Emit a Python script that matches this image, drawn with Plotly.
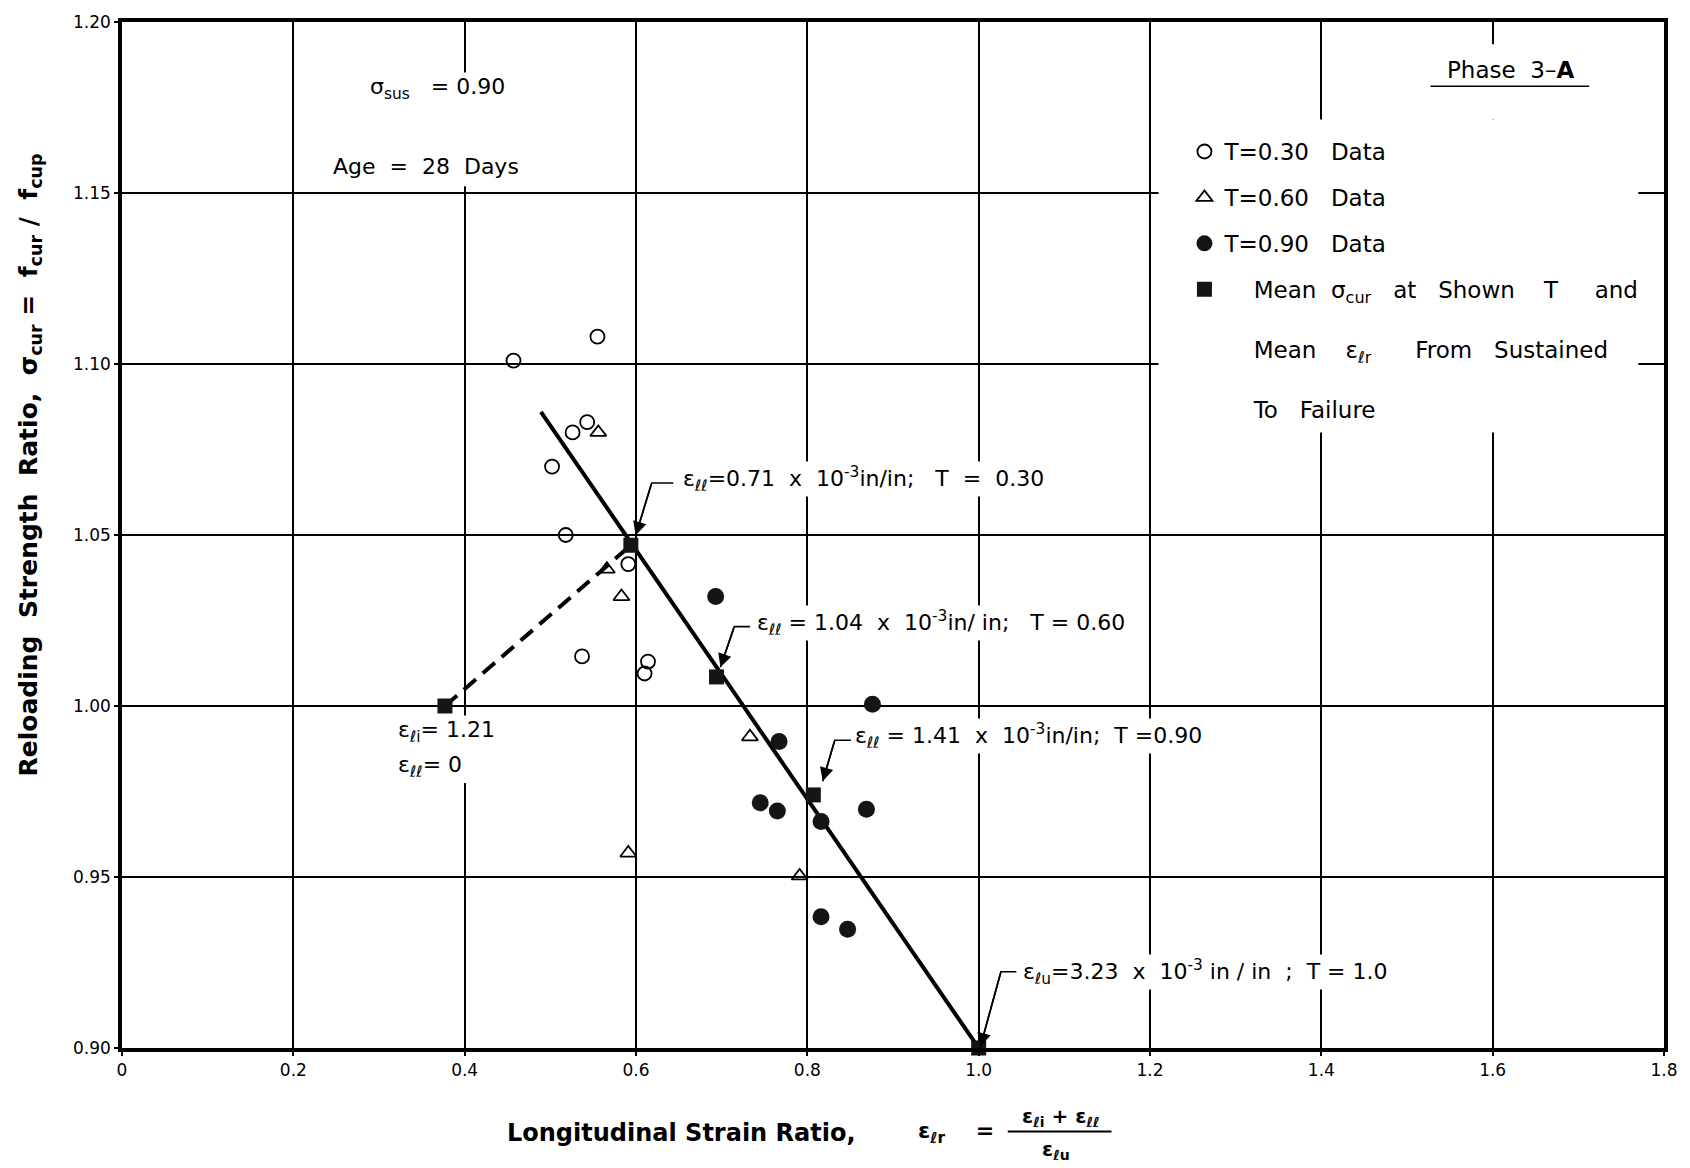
import plotly.graph_objects as go

# ---- data -------------------------------------------------------------
# T = 0.30 specimens (open circles)
t30_x = [0.457, 0.555, 0.526, 0.543, 0.502, 0.518, 0.591, 0.537, 0.614, 0.610]
t30_y = [1.101, 1.108, 1.080, 1.083, 1.070, 1.050, 1.0415, 1.0145, 1.013, 1.0095]

# T = 0.60 specimens (open triangles)
t60_x = [0.556, 0.566, 0.583, 0.733, 0.591, 0.791]
t60_y = [1.080, 1.040, 1.032, 0.991, 0.957, 0.9503]

# T = 0.90 specimens (filled circles)
t90_x = [0.693, 0.876, 0.767, 0.745, 0.765, 0.816, 0.869, 0.816, 0.847]
t90_y = [1.032, 1.0005, 0.9896, 0.9717, 0.9693, 0.9662, 0.9698, 0.9384, 0.9347]

# mean reloading strength at each T (filled squares)
mean_x = [0.377, 0.594, 0.694, 0.807, 1.0]
mean_y = [1.000, 1.047, 1.0085, 0.974, 0.900]

# fitted straight line through the means
fit_x = [0.489, 1.0]
fit_y = [1.086, 0.900]

x_ticks = [0, 0.2, 0.4, 0.6, 0.8, 1.0, 1.2, 1.4, 1.6, 1.8]
x_labels = ["0", "0.2", "0.4", "0.6", "0.8", "1.0", "1.2", "1.4", "1.6", "1.8"]
y_ticks = [0.90, 0.95, 1.00, 1.05, 1.10, 1.15, 1.20]
y_labels = ["0.90", "0.95", "1.00", "1.05", "1.10", "1.15", "1.20"]

FONT = "DejaVu Sans"
NB = "\u00a0"


def sp(n):
    return NB * n


fig = go.Figure()

# fitted line and the dashed branch from the initial state
fig.add_trace(go.Scatter(x=fit_x, y=fit_y, mode="lines",
                         line=dict(color="black", width=4),
                         showlegend=False, hoverinfo="skip"))
fig.add_trace(go.Scatter(x=mean_x[:2], y=mean_y[:2], mode="lines",
                         line=dict(color="black", width=4, dash="16px,9px"),
                         showlegend=False, hoverinfo="skip"))

fig.add_trace(go.Scatter(
    x=t30_x, y=t30_y, mode="markers", legendgroup="g1",
    name="T=0.30" + sp(3) + "Data",
    marker=dict(symbol="circle-open", size=14, color="black", line=dict(width=1.8))))
fig.add_trace(go.Scatter(
    x=t60_x, y=t60_y, mode="markers", legendgroup="g2",
    name="T=0.60" + sp(3) + "Data",
    marker=dict(symbol="triangle-up-open", size=14, color="black", line=dict(width=1.8))))
fig.add_trace(go.Scatter(
    x=t90_x, y=t90_y, mode="markers", legendgroup="g3",
    name="T=0.90" + sp(3) + "Data",
    marker=dict(symbol="circle", size=17, color="#151515", line=dict(width=0))))

mean_name = (sp(4) + "Mean" + sp(2) + "σ<sub>cur</sub>" + sp(3) + "at" + sp(3) + "Shown"
             + sp(4) + "T" + sp(5) + "and<br><br>"
             + sp(4) + "Mean" + sp(4) + "ε<sub>ℓr</sub>" + sp(6) + "From" + sp(3) + "Sustained<br><br>"
             + sp(4) + "To" + sp(3) + "Failure")
fig.add_trace(go.Scatter(
    x=mean_x, y=mean_y, mode="markers", legendgroup="g4", name=mean_name,
    cliponaxis=False,
    marker=dict(symbol="square", size=15, color="#151515", line=dict(width=0))))

# ---- text blocks and leaders ------------------------------------------
ann = []
shapes = []
LIFT = 0.0012  # text boxes sit a little above their leader ticks


def note(x, y, text, size=22, bg="white", **kw):
    ann.append(dict(x=x, y=y, xref="x", yref="y", text=text, showarrow=False,
                    xanchor=kw.pop("xanchor", "left"), yanchor="middle",
                    bgcolor=bg, borderpad=1,
                    font=dict(family=FONT, size=size, color="black"), **kw))


def leader(x0, x1, y1, xt, yt):
    # horizontal tick from the label, then a slanted arrow to the point
    shapes.append(dict(type="path", xref="x", yref="y",
                       path=f"M {x0},{y1} L {x1},{y1} L {xt},{yt}",
                       line=dict(color="black", width=1.6)))
    ann.append(dict(x=xt, y=yt, ax=x1, ay=y1, xref="x", yref="y",
                    axref="x", ayref="y", text="", showarrow=True,
                    arrowhead=2, arrowsize=1.6, arrowwidth=1.7,
                    arrowcolor="black", standoff=0))


note(0.652, 1.0652 + LIFT, "ε<sub>ℓℓ</sub>=0.71" + sp(2) + "x" + sp(2)
     + "10<sup>-3</sup>in/in;" + sp(3) + "T" + sp(2) + "=" + sp(2) + "0.30")
leader(0.6436, 0.6183, 1.0652, 0.5997, 1.0499)

note(0.739, 1.0232 + LIFT, "ε<sub>ℓℓ</sub>" + NB + "=" + NB + "1.04" + sp(2) + "x" + sp(2)
     + "10<sup>-3</sup>in/" + NB + "in;" + sp(3) + "T" + NB + "=" + NB + "0.60")
leader(0.733, 0.7147, 1.0232, 0.6985, 1.0113)

note(0.853, 0.990 + LIFT, "ε<sub>ℓℓ</sub>" + NB + "=" + NB + "1.41" + sp(2) + "x" + sp(2)
     + "10<sup>-3</sup>in/in;" + sp(2) + "T" + NB + "=0.90")
leader(0.851, 0.832, 0.990, 0.818, 0.978)

note(1.049, 0.921 + LIFT, "ε<sub>ℓu</sub>=3.23" + sp(2) + "x" + sp(2)
     + "10<sup>-3</sup>" + NB + "in" + NB + "/" + NB + "in" + sp(2) + ";" + sp(2)
     + "T" + NB + "=" + NB + "1.0")
leader(1.044, 1.026, 0.9223, 1.002, 0.9004)

note(0.3198, 0.9926, "ε<sub>ℓi</sub>=" + NB + "1.21")
note(0.3198, 0.9824, "ε<sub>ℓℓ</sub>=" + NB + "0")

note(0.2876, 1.1805, "σ<sub>sus</sub>" + sp(3) + "=" + NB + "0.90")
note(0.2445, 1.1577, "Age" + sp(2) + "=" + sp(2) + "28" + sp(2) + "Days")

note(1.6207, 1.1860, "Phase" + sp(2) + "3–<b>A</b>", size=23, xanchor="center")
shapes.append(dict(type="line", xref="x", yref="y", x0=1.5275, x1=1.7126,
                   y0=1.1812, y1=1.1812, line=dict(color="black", width=1.6)))

# cleared patches of the grid behind the lettering
for x0, x1, y0, y1 in [(1.21, 1.77, 1.080, 1.1715),
                       (1.523, 1.721, 1.1715, 1.1935),
                       (0.385, 0.415, 1.152, 1.184),
                       (0.385, 0.415, 0.9775, 0.995)]:
    shapes.append(dict(type="rect", xref="x", yref="y", x0=x0, x1=x1, y0=y0, y1=y1,
                       fillcolor="white", line=dict(width=0), layer="between"))

# ---- axis titles -------------------------------------------------------
ann.append(dict(x=-0.0595, y=0.568, xref="paper", yref="paper", textangle=-90,
                showarrow=False, xanchor="center", yanchor="middle",
                text="<b>Reloading" + sp(2) + "Strength" + sp(2) + "Ratio," + sp(2)
                     + "σ<sub>cur</sub>" + NB + "=" + sp(2) + "f<sub>cur</sub>" + NB + "/"
                     + sp(2) + "f<sub>cup</sub></b>",
                font=dict(family=FONT, size=25, color="black")))
ann.append(dict(x=(506 - 122) / 1546, y=-0.0824, xref="paper", yref="paper",
                showarrow=False, xanchor="left", yanchor="middle",
                text="<b>Longitudinal" + NB + "Strain" + NB + "Ratio,</b>",
                font=dict(family=FONT, size=24, color="black")))
ann.append(dict(x=(918 - 122) / 1546, y=-0.0824, xref="paper", yref="paper",
                showarrow=False, xanchor="left", yanchor="middle",
                text="<b>ε<sub>ℓr</sub>" + sp(4) + "=</b>",
                font=dict(family=FONT, size=22, color="black")))
ann.append(dict(x=0.609, y=-0.0669, xref="paper", yref="paper",
                showarrow=False, xanchor="center", yanchor="middle",
                text="<b>ε<sub>ℓi</sub>" + NB + "+" + NB + "ε<sub>ℓℓ</sub></b>",
                font=dict(family=FONT, size=20, color="black")))
ann.append(dict(x=0.606, y=-0.0999, xref="paper", yref="paper",
                showarrow=False, xanchor="center", yanchor="middle",
                text="<b>ε<sub>ℓu</sub></b>",
                font=dict(family=FONT, size=20, color="black")))
shapes.append(dict(type="line", xref="paper", yref="paper", x0=0.5744, x1=0.6417,
                   y0=-0.0815, y1=-0.0815, line=dict(color="black", width=2)))

axis_common = dict(showgrid=True, gridcolor="black", gridwidth=1.6,
                   showline=True, linecolor="black", linewidth=3.5, mirror=True,
                   ticks="outside", ticklen=4, tickwidth=1.6, tickcolor="black",
                   zeroline=False, tickfont=dict(family=FONT, size=17, color="black"))

fig.update_layout(
    width=1690, height=1168,
    margin=dict(l=122, r=22, t=17, b=120),
    paper_bgcolor="white", plot_bgcolor="white",
    xaxis=dict(range=[0, 1.8], tickvals=x_ticks, ticktext=x_labels, **axis_common),
    yaxis=dict(range=[0.9, 1.2], tickvals=y_ticks, ticktext=y_labels, **axis_common),
    legend=dict(x=0.689, y=0.8947, xanchor="left", yanchor="top",
                bgcolor="rgba(0,0,0,0)", valign="top", tracegroupgap=13,
                font=dict(family=FONT, size=23, color="black")),
    annotations=ann, shapes=shapes,
    font=dict(family=FONT, color="black"),
)

fig.write_html("out.html")
